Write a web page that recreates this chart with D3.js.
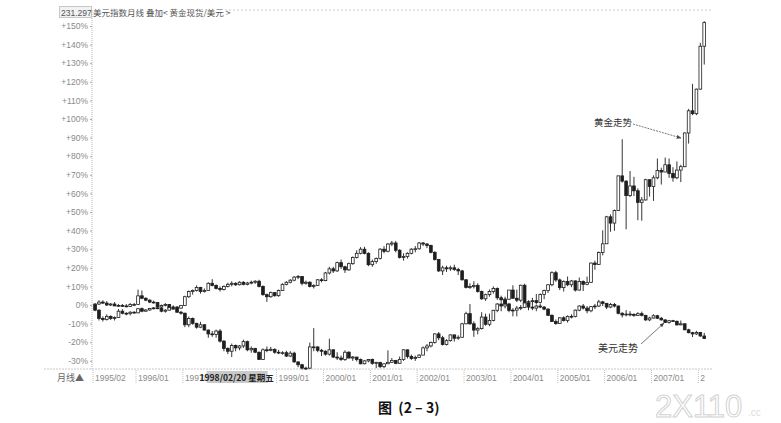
<!DOCTYPE html>
<html><head><meta charset="utf-8">
<script src="https://cdn.jsdelivr.net/npm/d3@7/dist/d3.min.js"></script>
<style>body{margin:0;background:#fff}svg{display:block}</style>
</head><body><svg id="c" width="781" height="423"></svg>
<script>
// ---------- DATA ----------
const startYear = 1995, startMonth = 2, monthCount = 157; // 1995/02 .. 2008/02 monthly bars
const yTicks = [150,140,130,120,110,100,90,80,70,60,50,40,30,20,10,0,-10,-20,-30];
// (the 1998/01 label is hidden under the cursor-date box in the reference)
const xTickLabels = ["1995/02","1996/01","1997/01","1999/01","2000/01","2001/01","2002/01","2003/01","2004/01","2005/01","2006/01","2007/01","2008/01"];
const headerCode = "231.297";
const headerTitle = "美元指数月线 叠加< 黄金现货/美元 >";
const cursorLabel = "1998/02/20 星期五";
const periodLabel = "月线▲";
const goldLabel = "黄金走势", dollarLabel = "美元走势";

// US dollar index monthly [open, high, low, close]
const dollarOHLC = [
 [90.0,90.3,87.0,87.5],[87.5,88.0,82.5,83.5],[83.5,84.5,82.0,83.0],[83.0,85.5,82.5,84.5],[84.5,85.0,82.8,83.5],[83.5,84.5,82.5,84.0],[84.0,88.0,83.8,87.0],[87.0,88.0,85.5,86.0],[86.0,86.5,85.0,85.8],[85.8,87.0,85.0,86.5],[86.5,87.0,85.8,86.2],
 [86.2,88.5,86.0,88.2],[88.2,88.8,86.5,87.0],[87.0,88.0,86.8,87.6],[87.6,88.6,87.2,88.3],[88.3,89.0,87.8,88.6],[88.6,89.2,88.0,88.5],[88.5,88.8,86.5,87.0],[87.0,88.0,86.3,87.5],[87.5,89.0,87.3,88.8],[88.8,89.8,88.2,89.0],[89.0,89.5,87.5,88.5],[88.5,90.0,88.2,89.8],
 [89.8,94.5,89.6,94.0],[94.0,97.0,93.5,96.5],[96.5,97.5,95.0,97.0],[97.0,99.5,96.5,98.5],[98.5,98.8,95.5,96.5],[96.5,98.0,96.0,97.0],[97.0,101.0,96.8,100.5],[100.5,102.5,99.0,99.5],[99.5,100.0,97.5,98.0],[98.0,99.0,96.5,97.5],[97.5,99.5,97.0,99.0],[99.0,100.8,98.5,100.0],
 [100.0,101.5,99.0,100.5],[100.5,101.0,99.2,99.8],[99.8,101.5,99.5,101.0],[101.0,101.5,99.5,100.0],[100.0,101.2,99.5,100.6],[100.6,101.8,100.0,101.0],[101.0,102.0,100.2,101.5],[101.5,102.2,98.5,99.0],[99.0,99.5,94.5,95.0],[95.0,95.5,91.5,94.0],[94.0,96.5,93.5,96.0],[96.0,96.2,94.0,94.5],
 [94.5,97.5,94.0,97.0],[97.0,100.5,96.8,100.0],[100.0,101.5,99.5,101.0],[101.0,102.5,100.5,102.0],[102.0,104.0,101.5,103.5],[103.5,104.5,102.5,103.8],[103.8,104.0,99.5,100.5],[100.5,101.8,99.8,101.0],[101.0,101.5,98.5,99.0],[99.0,100.0,98.0,99.5],[99.5,102.5,99.3,102.2],[102.2,103.0,101.0,101.8],
 [101.8,106.0,101.5,105.5],[105.5,108.5,104.8,107.5],[107.5,108.5,105.5,106.5],[106.5,111.0,106.0,110.5],[110.5,112.0,107.5,108.5],[108.5,109.0,105.5,107.0],[107.0,110.5,106.5,110.0],[110.0,113.5,109.5,113.0],[113.0,116.5,112.5,115.0],[115.0,118.0,114.5,117.0],[117.0,118.2,114.5,115.0],[115.0,115.5,108.8,109.5],
 [109.5,112.0,108.5,111.0],[111.0,113.0,110.0,112.5],[112.5,117.5,112.0,117.0],[117.0,118.5,115.0,116.0],[116.0,120.0,115.5,119.5],[119.5,121.0,118.5,120.0],[120.0,121.0,115.5,116.5],[116.5,117.0,112.5,113.0],[113.0,115.0,111.5,113.5],[113.5,115.5,112.5,115.0],[115.0,117.5,114.5,117.0],[117.0,118.5,115.5,117.2],
 [117.2,120.5,116.8,120.0],[120.0,120.5,118.5,119.5],[119.5,120.0,117.5,118.8],[118.8,119.2,115.0,115.5],[115.5,116.0,111.5,112.0],[112.0,112.3,106.0,106.5],[106.5,109.0,104.5,108.0],[108.0,109.0,106.0,107.5],[107.5,109.0,106.5,108.0],[108.0,109.5,106.5,107.2],[107.2,108.0,104.5,106.5],[106.5,107.0,101.8,102.2],
 [102.2,102.5,98.0,98.5],[98.5,100.5,97.8,99.0],[99.0,101.5,98.0,99.5],[99.5,100.5,96.0,96.5],[96.5,97.0,92.5,93.0],[93.0,95.5,92.0,95.0],[95.0,97.5,94.0,96.5],[96.5,99.0,95.5,98.0],[98.0,98.5,92.5,93.5],[93.5,94.5,91.5,92.5],[92.5,94.0,90.0,90.5],[90.5,91.0,86.5,87.4],
 [87.4,88.5,84.5,87.5],[87.5,89.5,84.5,88.5],[88.5,90.0,87.5,88.8],[88.8,91.8,88.5,91.0],[91.0,92.2,88.5,89.0],[89.0,89.8,87.5,88.5],[88.5,90.0,87.0,89.5],[89.5,90.5,88.5,89.0],[89.0,89.5,87.5,88.0],[88.0,88.5,84.8,85.0],[85.0,85.5,81.8,82.0],[82.0,83.0,80.4,81.0],
 [81.0,84.0,80.8,83.8],[83.8,84.5,82.0,82.5],[82.5,85.0,81.5,84.5],[84.5,85.5,83.5,84.5],[84.5,87.8,84.0,87.5],[87.5,89.8,87.0,89.5],[89.5,90.5,87.8,88.5],[88.5,89.5,86.0,87.2],[87.2,89.5,86.5,89.2],[89.2,90.5,88.0,89.5],[89.5,92.5,89.0,91.5],[91.5,92.0,89.5,90.8],
 [90.8,91.0,88.0,89.0],[89.0,91.0,88.5,90.2],[90.2,91.0,88.8,89.5],[89.5,89.8,85.5,86.0],[86.0,86.5,84.0,85.2],[85.2,87.5,84.5,85.6],[85.6,87.0,84.5,85.4],[85.4,86.0,84.3,85.0],[85.0,86.5,84.8,85.8],[85.8,86.8,84.5,85.0],[85.0,85.2,82.3,82.8],[82.8,84.3,82.2,83.7],
 [83.7,85.5,83.5,84.8],[84.8,85.2,83.2,83.6],[83.6,84.2,82.5,82.8],[82.8,83.0,81.3,81.6],[81.6,82.8,81.0,82.4],[82.4,82.8,81.8,82.1],[82.1,82.5,80.0,80.4],[80.4,82.5,80.2,80.9],[80.9,81.2,77.8,78.0],[78.0,78.5,76.3,76.6],[76.6,77.0,74.5,76.0],[76.0,77.5,75.5,76.7],
 [76.7,77.0,74.6,75.0],[75.0,76.5,73.5,73.8]
];

// Gold spot (USD/oz) monthly [open, high, low, close]
const goldOHLC = [
 [386,390,382,388],[388,396,386,392],[392,396,388,390],[390,394,384,386],[386,390,384,388],[388,392,384,384],[384,388,382,385],[385,388,382,384],[384,388,381,383],[383,390,382,387],[387,390,384,387],
 [387,418,387,405],[405,416,398,400],[400,402,394,396],[396,398,390,392],[392,395,389,391],[391,392,381,382],[382,387,379,385],[385,390,383,387],[387,388,378,379],[379,384,377,379],[379,382,370,371],[371,374,366,369],
 [369,370,340,345],[345,362,340,358],[358,360,345,348],[348,349,337,340],[340,351,338,345],[345,346,333,334],[334,335,318,326],[326,332,320,325],[325,335,318,332],[332,336,308,311],[311,313,290,296],[296,298,284,290],
 [290,306,278,302],[302,304,290,297],[297,303,292,301],[301,314,297,310],[310,312,290,293],[293,300,287,296],[296,297,286,288],[288,289,272,273],[273,296,272,293],[293,300,288,292],[292,299,290,294],[294,296,285,288],
 [288,293,284,287],[287,290,283,287],[287,291,278,280],[280,290,278,286],[286,289,266,268],[268,268,257,262],[262,264,252,255],[255,258,251,255],[255,308,253,299],[299,338,290,299],[299,300,288,292],[292,295,280,290],
 [290,292,281,284],[284,316,281,293],[293,294,276,278],[278,288,272,276],[276,281,270,273],[273,292,270,288],[288,290,275,276],[276,280,270,278],[278,278,269,273],[273,275,263,264],[264,272,263,270],[270,274,267,273],
 [273,275,262,265],[265,268,255,267],[267,268,255,258],[258,265,255,264],[264,292,264,267],[267,276,266,271],[271,272,263,265],[265,279,264,273],[273,294,270,293],[293,293,275,279],[279,283,272,275],[275,281,270,277],
 [277,284,277,282],[282,300,282,297],[297,305,290,301],[301,310,298,308],[308,327,306,326],[326,330,313,318],[318,322,302,304],[304,315,302,312],[312,325,310,324],[324,324,310,317],[317,323,314,319],[319,349,318,347],
 [347,372,346,368],[368,388,345,347],[347,352,320,334],[334,340,325,337],[337,371,335,361],[361,368,343,346],[346,368,342,354],[354,376,352,375],[375,390,371,388],[388,392,373,384],[384,400,379,398],[398,417,397,417],
 [417,427,399,400],[400,418,392,396],[396,428,392,427],[427,430,386,388],[388,395,375,393],[393,401,385,395],[395,409,387,391],[391,410,389,408],[408,418,398,416],[416,429,411,428],[428,456,425,453],[453,457,434,438],
 [438,441,417,422],[422,437,414,435],[435,445,425,428],[428,438,423,436],[436,437,414,417],[417,443,416,435],[435,437,415,429],[429,445,427,433],[433,474,432,473],[473,478,459,470],[470,497,469,495],[495,541,489,513],
 [513,571,513,569],[569,574,538,556],[556,584,540,582],[582,654,581,654],[654,730,640,643],[643,645,543,613],[613,664,610,633],[633,652,612,623],[623,628,562,599],[599,610,561,604],[604,648,603,646],[646,647,611,632],
 [632,655,602,650],[650,690,647,665],[665,671,636,662],[662,692,662,677],[677,690,650,659],[659,672,642,650],[650,684,647,666],[666,677,641,673],[673,744,672,743],[743,793,721,789],[789,845,780,783],[783,835,780,834],
 [834,930,833,923],[923,975,885,972]
];

// ---------- CHART ----------
const months = d3.range(monthCount).map(i => {
  const t = (startMonth - 1) + i, yy = startYear + Math.floor(t / 12), mm = t % 12 + 1;
  return yy + "/" + String(mm).padStart(2, "0");
});
const svg = d3.select("#c");
const ink = "#1e1e1e", grey = "#8a8a8a";
const numFont = "'Liberation Sans', Arial, sans-serif";
const cjkFont = "'Noto Sans CJK SC', sans-serif";

const x = d3.scaleBand().domain(months).range([93.5, 93.5 + monthCount * 3.9]).paddingInner(0.2);
const y = d3.scaleLinear().domain([-30, 150]).range([360.8, 26]);
const cx = m => x(m) + x.bandwidth() / 2;
const curX = cx("1998/02") + 1;

// frame lines
svg.append("line").attr("x1", 92).attr("x2", 92).attr("y1", 10).attr("y2", 369)
  .attr("stroke", "#b5b5b5").attr("stroke-dasharray", "1,1");
svg.append("line").attr("x1", 225).attr("x2", 712).attr("y1", 10).attr("y2", 10)
  .attr("stroke", "#c8c8c8").attr("stroke-dasharray", "2,2");
svg.append("line").attr("x1", 44).attr("x2", 712).attr("y1", 369).attr("y2", 369)
  .attr("stroke", "#c8c8c8").attr("stroke-dasharray", "2,1");

// Y axis
const yAxis = d3.axisLeft(y).tickValues(yTicks).tickSize(2)
  .tickFormat(d => (d > 0 ? "+" : "") + d + "%");
const ya = svg.append("g").attr("transform", "translate(92,0)").call(yAxis);
ya.select(".domain").remove();
ya.selectAll(".tick line").attr("stroke", "#aaa");
ya.selectAll(".tick text").attr("fill", grey).attr("font-family", numFont).attr("font-size", 8.5).attr("x", -4);

// X axis (labels left-aligned after the tick); clip rects are in the group's local coordinates,
// leaving out the area covered by the cursor-date box
const clip = svg.append("clipPath").attr("id", "xclip");
clip.append("rect").attr("x", 40).attr("y", -5).attr("width", curX - 30 - 40).attr("height", 22);
clip.append("rect").attr("x", curX + 31).attr("y", -5).attr("width", 705 - curX - 31).attr("height", 22);
const xTickMonths = xTickLabels.filter(l => months.indexOf(l) >= 0);
const xAxis = d3.axisBottom(x).tickValues(xTickMonths).tickSize(0).tickFormat(d => d);
const xa = svg.append("g").attr("transform", "translate(0,370)").attr("clip-path", "url(#xclip)").call(xAxis);
xa.select(".domain").remove();
xa.selectAll(".tick text").attr("fill", grey).attr("font-family", numFont).attr("font-size", 8.5)
  .attr("text-anchor", "start").attr("dx", 0).attr("dy", 0).attr("y", 10.5);
xa.selectAll(".tick").append("line").attr("x1", -2).attr("x2", -2).attr("y1", 0).attr("y2", 14)
  .attr("stroke", "#c0c0c0").attr("stroke-dasharray", "1,1");
svg.append("text").attr("x", 57).attr("y", 381).attr("font-family", cjkFont).attr("font-size", 9)
  .attr("fill", "#666").text(periodLabel);

// cursor date label
const cur = svg.append("g").attr("transform", "translate(" + curX + ",377)");
cur.append("rect").attr("x", -30).attr("y", -6).attr("width", 61).attr("height", 12).attr("fill", "#c9c9c9");
cur.append("text").attr("text-anchor", "middle").attr("y", 3.5).attr("font-family", cjkFont)
  .attr("font-size", 8.5).attr("font-weight", "bold").attr("fill", "#222").text(cursorLabel);

// header
svg.append("rect").attr("x", 59.5).attr("y", 6.5).attr("width", 32).attr("height", 11)
  .attr("fill", "#f2f2f2").attr("stroke", "#999").attr("stroke-dasharray", "1,1");
svg.append("text").attr("x", 61).attr("y", 15.5).attr("font-family", numFont).attr("font-size", 8.5)
  .attr("fill", "#555").text(headerCode);
svg.append("text").attr("x", 93).attr("y", 15.5).attr("font-family", cjkFont).attr("font-size", 8.5)
  .attr("fill", "#555").text(headerTitle);

// candles
function drawCandles(data, cls) {
  const base = data[0][0];
  const p = v => (v / base - 1) * 100;
  const g = svg.append("g").attr("class", cls);
  const rows = data.map((d, i) => ({ m: months[i], o: p(d[0]), h: p(d[1]), l: p(d[2]), c: p(d[3]) }));
  g.selectAll("line").data(rows).join("line")
    .attr("x1", d => cx(d.m)).attr("x2", d => cx(d.m))
    .attr("y1", d => y(d.h)).attr("y2", d => y(d.l))
    .attr("stroke", ink).attr("stroke-width", 0.9);
  g.selectAll("rect").data(rows).join("rect")
    .attr("x", d => x(d.m) + 0.2).attr("width", x.bandwidth() - 0.4)
    .attr("y", d => y(Math.max(d.o, d.c)))
    .attr("height", d => Math.max(0.8, Math.abs(y(d.o) - y(d.c))))
    .attr("fill", d => d.c >= d.o ? "#fff" : ink)
    .attr("stroke", ink).attr("stroke-width", 0.8);
}
drawCandles(goldOHLC, "gold");
drawCandles(dollarOHLC, "dollar");

// annotations
const defs = svg.append("defs");
defs.append("marker").attr("id", "ah").attr("viewBox", "0 0 10 10").attr("refX", 9).attr("refY", 5)
  .attr("markerWidth", 6).attr("markerHeight", 6).attr("orient", "auto")
  .append("path").attr("d", "M0,1 L10,5 L0,9 Z").attr("fill", "#444");
svg.append("text").attr("x", 594).attr("y", 126).attr("font-family", cjkFont).attr("font-size", 9.5)
  .attr("fill", "#333").text(goldLabel);
svg.append("line").attr("x1", 633).attr("y1", 124).attr("x2", 681).attr("y2", 138)
  .attr("stroke", "#555").attr("stroke-width", 0.8).attr("stroke-dasharray", "2,1").attr("marker-end", "url(#ah)");
svg.append("text").attr("x", 598).attr("y", 352).attr("font-family", cjkFont).attr("font-size", 10)
  .attr("fill", "#333").text(dollarLabel);
svg.append("line").attr("x1", 641).attr("y1", 344).attr("x2", 664).attr("y2", 323)
  .attr("stroke", "#555").attr("stroke-width", 0.8).attr("marker-end", "url(#ah)");

// caption
svg.append("text").attr("x", 378).attr("y", 413).attr("font-family", "'Noto Sans CJK SC', 'Liberation Serif', serif")
  .attr("font-size", 14).attr("font-weight", "bold").attr("fill", "#111").attr("xml:space", "preserve")
  .text("图  (2 – 3)");

// scan watermark
svg.append("text").attr("x", 655).attr("y", 417).attr("font-family", numFont).attr("font-size", 31)
  .attr("fill", "#fff").attr("stroke", "#d2d2d2").attr("stroke-width", 1).text("2X110");
svg.append("text").attr("x", 748).attr("y", 416).attr("font-family", numFont).attr("font-size", 10)
  .attr("fill", "#ddd").text(".cc");
</script></body></html>
